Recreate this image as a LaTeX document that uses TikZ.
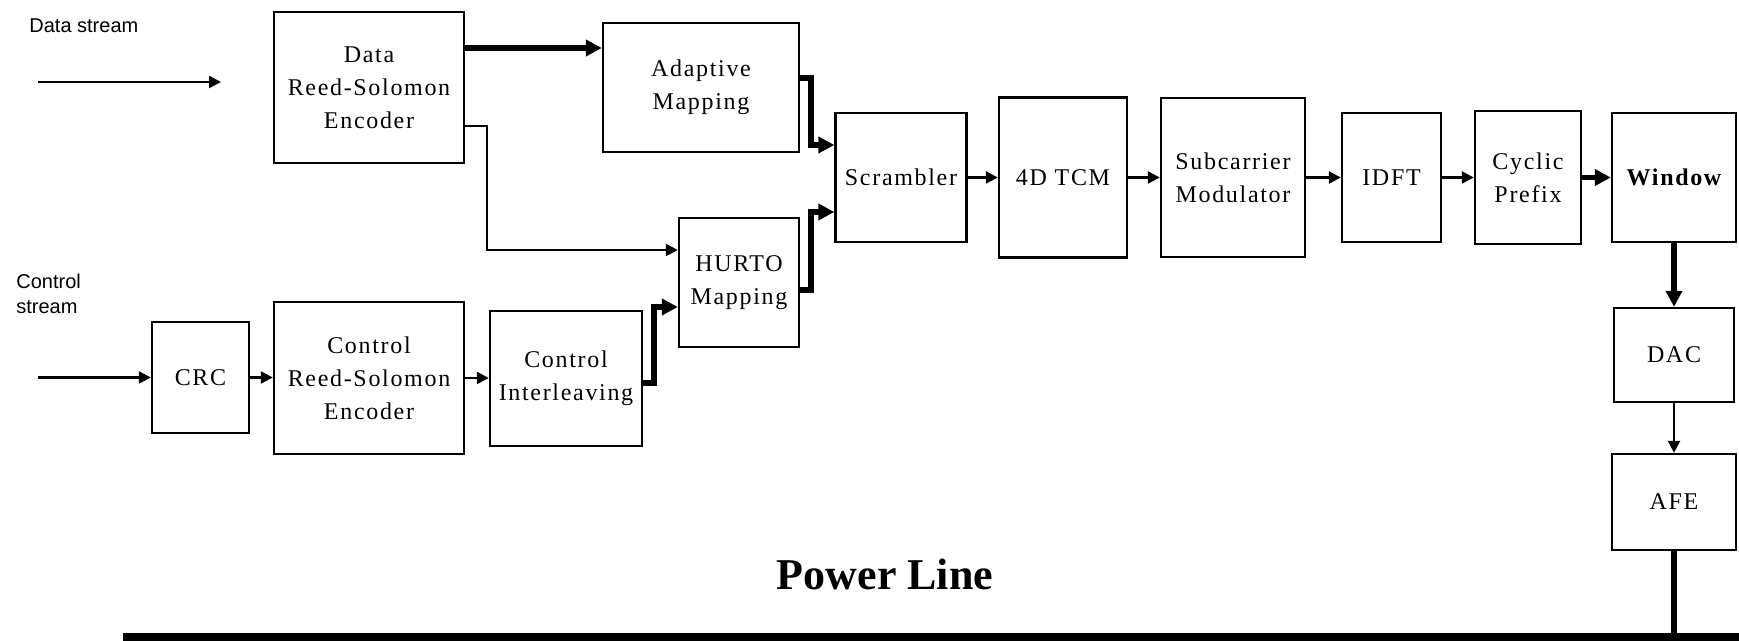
\documentclass[tikz,border=0pt]{standalone}
\usepackage{fontspec}
\setmainfont{Liberation Serif}
\newfontfamily\blkfont[LetterSpace=7]{Liberation Serif}
\newfontfamily\lblfont{Liberation Sans}
\usetikzlibrary{arrows.meta}

\begin{document}
\begin{tikzpicture}[x=0.5pt,y=-0.5pt,>={Triangle[length=6pt,width=6pt]},
  blk/.style={draw,line width=1.2pt,inner sep=0pt,align=center,
    font=\blkfont\fontsize{12}{16.5}\selectfont},
  flow/.style={->,line width=1.2pt},
  bigflow/.style={line width=2.6pt,-{Triangle[length=8pt,width=8pt]}},
  lbl/.style={font=\lblfont\fontsize{10}{12.5}\selectfont,inner sep=0pt}]
  \useasboundingbox (0,0) rectangle (1739,641);
  % ---- inputs
  \node[lbl,anchor=west] (dlab) at (29,26) {Data stream};
  \node[lbl,anchor=west,align=left] (clab) at (16,294) {Control\\stream};
  \coordinate (dsrc) at (38,82);
  \coordinate (dend) at (221,82);
  \coordinate (csrc) at (38,377.5);
  % ---- data branch
  \node[blk,minimum width=95pt,minimum height=75.5pt] (drs) at (369,87.5) {Data\\Reed-Solomon\\Encoder};
  \node[blk,minimum width=98pt,minimum height=64.5pt] (adapt) at (701,87.5) {Adaptive\\Mapping};
  % ---- control branch
  \node[blk,minimum width=48.5pt,minimum height=55.5pt] (crc) at (200.5,377.5) {CRC};
  \node[blk,minimum width=95pt,minimum height=76pt] (crs) at (369,378) {Control\\Reed-Solomon\\Encoder};
  \node[blk,minimum width=76pt,minimum height=67.5pt] (ci) at (566,378.5) {Control\\Interleaving};
  \node[blk,minimum width=60pt,minimum height=64.5pt] (hurto) at (739,282.5) {HURTO\\Mapping};
  % ---- common chain
  \node[blk,minimum width=65.5pt,minimum height=64.5pt] (scr) at (901,177.5) {Scrambler};
  \node[blk,minimum width=64pt,minimum height=80pt] (tcm) at (1063,177.5) {4D TCM};
  \node[blk,minimum width=72pt,minimum height=79.5pt] (submod) at (1233,177.5) {Subcarrier\\Modulator};
  \node[blk,minimum width=49.5pt,minimum height=64.5pt] (idft) at (1391.5,177.5) {IDFT};
  \node[blk,minimum width=53pt,minimum height=66.5pt] (cp) at (1528,177.5) {Cyclic\\Prefix};
  \node[blk,minimum width=62pt,minimum height=64.5pt] (win) at (1674,177.5) {\bfseries Window};
  \node[blk,minimum width=60pt,minimum height=47pt] (dac) at (1674,355) {DAC};
  \node[blk,minimum width=62pt,minimum height=48pt] (afe) at (1674,502) {AFE};
  % ---- power line
  \node[font=\fontsize{22}{26}\selectfont\bfseries] (pl) at (885,574) {Power Line};
  \coordinate (busw) at (123,637);
  \coordinate (buse) at (1739,637);
  \draw[line width=4pt] (busw) -- (buse);
  \draw[line width=3pt] (afe.south) -- (afe.south |- busw);
  % ---- connectors
  \draw[flow] (dsrc) -- (dend);
  \draw[flow] (csrc) -- (crc);
  \draw[flow] (crc.east) -- (crc.east -| crs.west);
  \draw[flow] (crs.east) -- (crs.east -| ci.west);
  \draw[bigflow] (drs.east |- 0,48) -- (adapt.west |- 0,48);
  \draw[flow] (drs.east |- 0,126) -| (487,250) -- (hurto.west |- 0,250);
  \draw[bigflow] (ci.east |- 0,383) -| (654,307) -- (hurto.west |- 0,307);
  \draw[bigflow] (adapt.east |- 0,78) -| (811,145) -- (scr.west |- 0,145);
  \draw[bigflow] (hurto.east |- 0,290) -| (811,212) -- (scr.west |- 0,212);
  \draw[flow] (scr) -- (tcm);
  \draw[flow] (tcm) -- (submod);
  \draw[flow] (submod) -- (idft);
  \draw[flow] (idft) -- (cp);
  \draw[bigflow] (cp) -- (win);
  \draw[bigflow] (win) -- (dac);
  \draw[flow] (dac) -- (afe);
\end{tikzpicture}
\end{document}
